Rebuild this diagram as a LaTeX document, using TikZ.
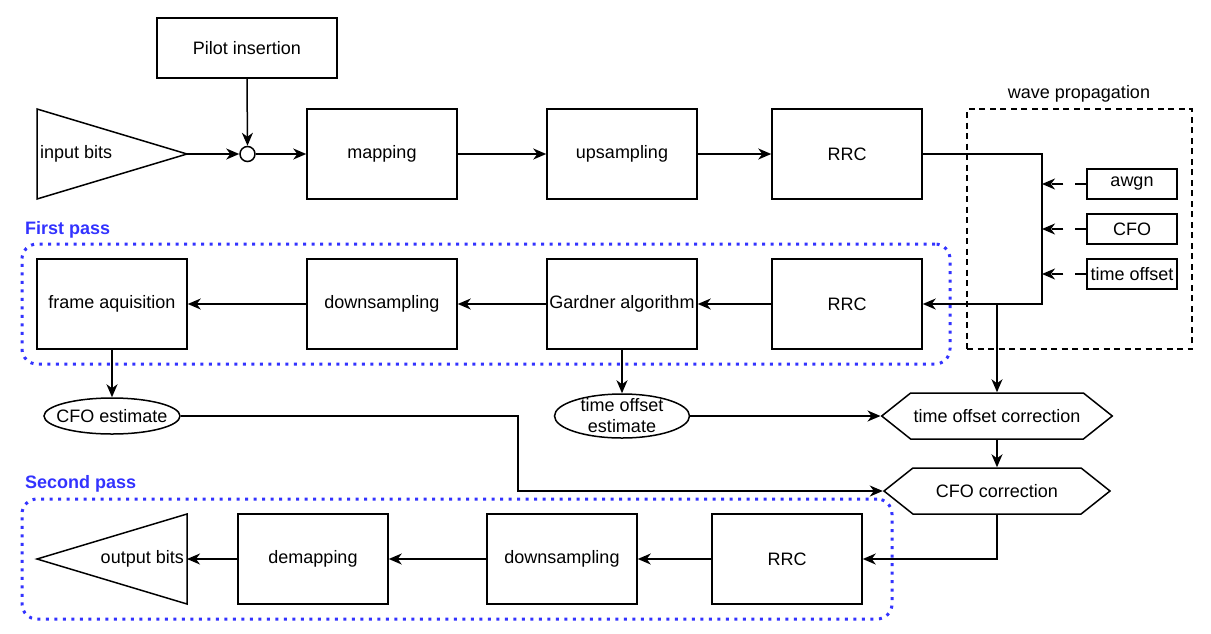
\documentclass[tikz,border=0pt]{standalone}
\usepackage{fontspec}
\setmainfont{Liberation Sans}
\usetikzlibrary{
  shapes.geometric,
  shapes.symbols,
  arrows.meta,
  positioning,
  backgrounds,
}
\definecolor{ink}{HTML}{000000}
\definecolor{wireStroke}{HTML}{000000}
\definecolor{passBlue}{HTML}{3333FF}
\tikzset{
  every node/.style={
    font=\fontsize{18}{21}\selectfont,
    text=ink,
    align=center,
    inner sep=3pt,
  },
  block/.style={
    rectangle, draw=wireStroke, line width=1.5pt,
    minimum width=150pt, minimum height=90pt, inner xsep=0pt,
  },
  tag/.style={
    rectangle, draw=wireStroke, line width=1.5pt,
    minimum width=90pt, minimum height=30pt, inner sep=1pt,
  },
  estimate/.style={
    ellipse, draw=wireStroke, line width=1.5pt,
    minimum width=136pt, minimum height=36pt,
    inner xsep=-9pt, inner ysep=-4pt,
  },
  correction/.style={
    signal, signal to=west and east, signal pointer angle=77,
    draw=wireStroke, line width=1.5pt,
    minimum width=226pt, minimum height=46pt,
  },
  junction/.style={
    circle, draw=wireStroke, line width=1.5pt,
    minimum size=15pt, inner sep=0pt,
  },
  passbox/.style={
    rectangle, rounded corners=15pt,
    draw=passBlue, line width=3pt, dash pattern=on 3pt off 5.5pt,
  },
  passlabel/.style={
    font=\fontsize{18}{21}\selectfont\bfseries,
    text=passBlue,
  },
  channelbox/.style={
    rectangle, draw=wireStroke, line width=1.5pt,
    dash pattern=on 6pt off 4.5pt,
  },
  wire/.style={
    draw=wireStroke, line width=1.5pt, line join=miter,
  },
  flow/.style={
    -{Stealth[length=13pt,width=11pt,inset=4pt]},
    draw=wireStroke, line width=1.5pt,
  },
  noise/.style={
    flow, dash pattern=on 11pt off 12pt,
  },
}

\begin{document}
\begin{tikzpicture}[x=1pt, y=-1pt]

% coordinates in px of the 1211x633 sheet, y top-down
\useasboundingbox (0,0) rectangle (1211,633);

% ----- group frames -----
\begin{scope}[on background layer]
  \node[passbox, minimum width=928pt, minimum height=120pt] (firstpass) at (486,304) {};
  \node[passbox, minimum width=870pt, minimum height=120pt] (secondpass) at (457,559) {};
  \node[channelbox, minimum width=225pt, minimum height=240pt] (channel) at (1079.5,229) {};
\end{scope}
\node[passlabel, anchor=west] (firstlbl)  at (22,230) {First pass};
\node[passlabel, anchor=west] (secondlbl) at (22,484) {Second pass};
\node (channellbl) at (1079,94) {wave propagation};

% ----- transmitter, y=154 -----
\draw[wire] (37,109) -- (187,154) coordinate (inbits) -- (37,199) -- cycle;
\node[anchor=west] (inbitslbl) at (37,154) {input bits};
\node[block, minimum width=180pt, minimum height=60pt] (pilot) at (247,48) {Pilot insertion};
\node[junction] (join)    at (247.5,154) {};
\node[block] (mapping)    at (382,154) {mapping};
\node[block] (upsampling) at (622,154) {upsampling};
\node[block] (rrctx)      at (847,154) {RRC};

% ----- channel impairments -----
\node[tag] (awgn)    at (1132,184) {awgn};
\node[tag] (cfo)     at (1132,229) {CFO};
\node[tag] (toffset) at (1132,274) {time offset};
\coordinate (chanin)  at (1042,154);
\coordinate (chanout) at (1042,304);
\coordinate (tap)     at (997,304);

% ----- first pass, y=304 -----
\node[block] (frameacq) at (112,304) {frame aquisition};
\node[block] (downfirst) at (382,304) {downsampling};
\node[block] (gardner)  at (622,304) {Gardner algorithm};
\node[block] (rrcrx)    at (847,304) {RRC};

% ----- estimates and corrections -----
\node[estimate] (cfoest) at (112,416) {CFO estimate};
\node[estimate, minimum width=135pt, minimum height=44pt] (toest) at (622,416) {time offset\\estimate};
\node[correction] (tocorr)  at (997,416) {time offset correction};
\node[correction] (cfocorr) at (997,491) {CFO correction};

% ----- second pass, y=559 -----
\node[block] (rrcfinal)   at (787,559) {RRC};
\node[block] (downsecond) at (562,559) {downsampling};
\node[block] (demapping)  at (313,559) {demapping};
\draw[wire] (187,514) -- (37,559) -- (187,604) -- cycle;
\coordinate (outbits) at (187,559);
\node[anchor=east] (outbitslbl) at (outbits) {output bits};

% ============================================
% edges
% ============================================
\draw[flow] (inbits) -- (join.west);
\draw[flow] (pilot.south) -- (join.north);
\draw[flow] (join.east) -- (mapping.west);
\draw[flow] (mapping) -- (upsampling);
\draw[flow] (upsampling) -- (rrctx);

% channel bus
\draw[flow] (rrctx.east) -- (chanin) -- (chanout) -- (rrcrx.east);
\draw[noise] (awgn.west) -- (awgn.west -| chanin);
\draw[noise] (cfo.west) -- (cfo.west -| chanin);
\draw[noise] (toffset.west) -- (toffset.west -| chanin);
\draw[flow] (tap) -- (tocorr.north);

\draw[flow] (rrcrx) -- (gardner);
\draw[flow] (gardner) -- (downfirst);
\draw[flow] (downfirst) -- (frameacq);
\draw[flow] (frameacq.south) -- (cfoest.north);
\draw[flow] (gardner.south) -- (toest.north);

\draw[flow] (toest.east) -- (tocorr.west);
\draw[flow] (cfoest.east) -- ++(337,0) |- (cfocorr.west);
\draw[flow] (tocorr.south) -- (cfocorr.north);
\draw[flow] (cfocorr.south) |- (rrcfinal.east);

\draw[flow] (rrcfinal) -- (downsecond);
\draw[flow] (downsecond) -- (demapping);
\draw[flow] (demapping.west) -- (outbits);

\end{tikzpicture}
\end{document}
